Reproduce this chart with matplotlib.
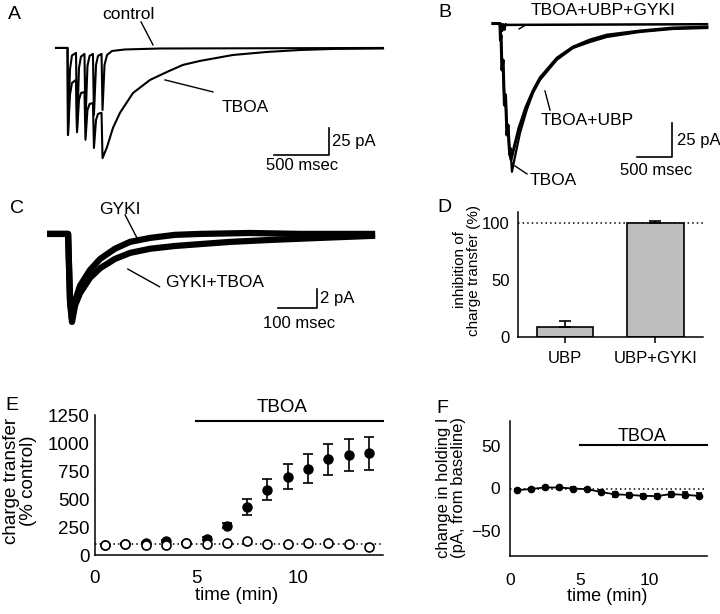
import matplotlib
matplotlib.use('Agg')
import matplotlib.pyplot as plt

plt.rcParams['font.family'] = ['Liberation Sans', 'DejaVu Sans']

# ---------------- data ----------------
# Panel A (time in ms, current in pA)
a_ctrl_t = [0, 105, 109, 127, 145, 182, 191, 209, 227, 259, 268, 286, 305, 336, 345, 364, 382, 414,
            423, 441, 464, 509, 627, 945, 2973]
a_ctrl_i = [0, 0, -80.5, -20, -7, -4.6, -76, -18.5, -8, -5.5, -68.5, -16.7, -7.4, -5.5, -62, -15.7,
            -7.4, -5.5, -57.4, -15.7, -6.5, -2.8, -1.4, -0.5, 0]
a_tboa_t = [0, 105, 109, 127, 145, 182, 191, 209, 227, 259, 268, 286, 305, 336, 345, 364, 382, 414,
            423, 464, 518, 582, 700, 855, 1009, 1154, 1309, 1609, 1918, 2218, 2518, 2973]
a_tboa_i = [0, 0, -80.5, -43.5, -32.4, -29.6, -78, -48, -41.7, -40.7, -85, -57.4, -51.9, -51, -92.6,
            -66.7, -61, -60, -102, -91.7, -74, -60, -41.7, -29.6, -22.2, -15.7, -12, -6.5, -3.7,
            -1.9, -0.9, -0.5]

# Panel B
b_tboa_t = [0, 100, 107, 114, 129, 143, 164, 179, 200, 214, 236, 250, 271, 314, 386, 482, 572, 672,
            910, 1143, 1386, 1625, 2100, 2572, 3058]
b_tboa_i = [0, 0, -12.1, -8.5, -34.2, -26.8, -60, -52.5, -82, -74.6, -96.7, -91.5, -109, -98, -80.5,
            -63.6, -51, -41.5, -26.8, -18, -13.6, -9.9, -6.2, -4, -3.3]
b_ubp_t = [0, 100, 107, 114, 129, 143, 164, 179, 200, 214, 236, 257, 300, 372, 472, 572, 672, 915,
           1143, 1386, 1629, 2100, 2572, 3058]
b_ubp_i = [0, 0, -12.1, -8.5, -34.2, -26.8, -60, -52.5, -82, -74.6, -94, -100, -91.5, -76.8, -61.4,
           -49.6, -40, -25.4, -17.3, -12.1, -8.5, -5.5, -3.3, -2.6]
b_gyki_t = [0, 100, 107, 114, 129, 143, 164, 179, 200, 3058]
b_gyki_i = [0, 0, -6.2, -0.4, -5.5, -0.5, -4.5, -0.5, -1, -0.5]

# Panel C
c_gyki_t = [0, 54, 59, 64, 72, 84.5, 110, 136, 174, 212.5, 264, 328, 392, 520, 648, 840]
c_gyki_i = [0, 0, -7.2, -9.2, -7.2, -5.6, -3.9, -2.7, -1.6, -0.86, -0.43, -0.1, 0, 0.1, 0, 0]
c_gt_t = [0, 54, 59, 64, 72, 84.5, 110, 136, 174, 212.5, 264, 328, 392, 469, 571, 699, 840]
c_gt_i = [0, 0, -7.4, -9.5, -7.7, -6.4, -4.75, -3.7, -2.7, -2.05, -1.6, -1.3, -1.1, -0.86, -0.65,
          -0.43, -0.2]

# Panel D
d_cats = ['UBP', 'UBP+GYKI']
d_vals = [9, 100]
d_errs = [5, 2]

# Panel E
e_time = [0.5, 1.5, 2.5, 3.5, 4.5, 5.5, 6.5, 7.5, 8.5, 9.5, 10.5, 11.5, 12.5, 13.5]
e_filled = [90, 98, 104, 122, 105, 145, 262, 428, 583, 700, 770, 855, 893, 908]
e_filled_err = [5, 5, 8, 10, 8, 15, 22, 70, 93, 113, 130, 138, 140, 146]
e_open = [85, 98, 85, 90, 104, 98, 104, 125, 98, 98, 104, 107, 98, 75]
e_open_err = [4, 4, 4, 4, 4, 4, 4, 5, 4, 4, 4, 4, 4, 4]

# Panel F
f_time = [0.5, 1.5, 2.5, 3.5, 4.5, 5.5, 6.5, 7.5, 8.5, 9.5, 10.5, 11.5, 12.5, 13.5]
f_vals = [-2, -0.5, 1.2, 1.2, 0, -0.8, -4, -7, -7.5, -8.7, -9, -6.7, -7.5, -8.7]
f_errs = [1.5, 1.5, 1.5, 1.5, 1.5, 1.5, 2, 2.5, 2.5, 2.5, 2.5, 3, 3, 3]

# ---------------- figure ----------------
W, H = 720, 614
fig = plt.figure(figsize=(7.2, 6.14), dpi=100)


def box(l, t, r, b):
    return [l / W, 1 - b / H, (r - l) / W, (b - t) / H]


def ftext(x, y, s, **kw):
    fig.text(x / W, 1 - y / H, s, **kw)


TXT = 12.5

# ---- Panel A ----
axA = fig.add_axes(box(50, 0, 395, 178))
axA.plot(a_ctrl_t, a_ctrl_i, color='k', lw=1.5)
axA.plot(a_tboa_t, a_tboa_i, color='k', lw=1.5)
axA.set_xlim(-54.5, 3082)
axA.set_ylim(-120.4, 44.4)
axA.axis('off')
axA.plot([1982, 2482, 2482], [-99, -99, -74], color='k', lw=1.2)
axA.text(2509, -91.2, '25 pA', ha='left', va='baseline', fontsize=12)
axA.text(2236, -113.4, '500 msec', ha='center', va='baseline', fontsize=12)
axA.text(655, 26.9, 'control', ha='center', va='baseline', fontsize=TXT)
axA.plot([773, 882], [24.1, 2.8], color='k', lw=1)
axA.text(1718, -59, 'TBOA', ha='center', va='baseline', fontsize=TXT)
axA.plot([991, 1427], [-29.6, -40.7], color='k', lw=1)

# ---- Panel B ----
axB = fig.add_axes(box(485, 0, 720, 190))
axB.plot(b_gyki_t, b_gyki_i, color='k', lw=1.8)
axB.plot(b_ubp_t, b_ubp_i, color='k', lw=2.2)
axB.plot(b_tboa_t, b_tboa_i, color='k', lw=1.6)
axB.set_xlim(-114, 3244)
axB.set_ylim(-122.4, 17.3)
axB.axis('off')
axB.plot([2058, 2558, 2558], [-98.1, -98.1, -73.1], color='k', lw=1.2)
axB.text(2629, -89.3, '25 pA', ha='left', va='baseline', fontsize=12)
axB.text(2329, -111.4, '500 msec', ha='center', va='baseline', fontsize=12)
axB.text(1572, 6.2, 'TBOA+UBP+GYKI', ha='center', va='baseline', fontsize=TXT)
axB.plot([372, 443], [-4.0, -1.8], color='k', lw=1)
axB.text(1350, -74.6, 'TBOA+UBP', ha='center', va='baseline', fontsize=TXT)
axB.plot([743, 815], [-49.6, -63.6], color='k', lw=1)
axB.text(864, -118.7, 'TBOA', ha='center', va='baseline', fontsize=TXT)
axB.plot([314, 486], [-104.7, -110.6], color='k', lw=1)

# ---- Panel C ----
axC = fig.add_axes(box(40, 195, 390, 340))
axC.plot(c_gt_t, c_gt_i, color='k', lw=4.5, solid_capstyle='butt')
axC.plot(c_gyki_t, c_gyki_i, color='k', lw=4.5, solid_capstyle='butt')
axC.set_xlim(-17.9, 878)
axC.set_ylim(-11.45, 4.2)
axC.axis('off')
axC.plot([591, 691, 691], [-8.0, -8.0, -5.94], color='k', lw=1.2)
axC.text(699, -7.45, '2 pA', ha='left', va='baseline', fontsize=12)
axC.text(645, -10.15, '100 msec', ha='center', va='baseline', fontsize=12)
axC.text(187, 2.16, 'GYKI', ha='center', va='baseline', fontsize=TXT)
axC.plot([200, 233], [2.05, -0.65], color='k', lw=1)
axC.text(428, -5.76, 'GYKI+TBOA', ha='center', va='baseline', fontsize=TXT)
axC.plot([207, 288], [-3.8, -5.7], color='k', lw=1)

# ---- Panel D ----
axD = fig.add_axes(box(518, 212, 703, 337))
xpos = list(range(len(d_cats)))
axD.axhline(100, ls=(0, (1, 2)), color='k', lw=1.1, zorder=1)
axD.bar(xpos, d_vals, width=0.62, color='#bebebe', edgecolor='k', lw=1.2, zorder=2)
axD.errorbar(xpos, d_vals, yerr=[[0] * len(d_errs), d_errs], fmt='none', ecolor='k',
             elinewidth=1.2, capsize=4, capthick=1.2, zorder=3)
axD.set_xlim(-0.519, 1.525)
axD.set_ylim(0, 110)
axD.set_xticks(xpos)
axD.set_xticklabels(d_cats)
axD.set_yticks([0, 50, 100])
for s in ['top', 'right']:
    axD.spines[s].set_visible(False)
for s in ['left', 'bottom']:
    axD.spines[s].set_linewidth(1.1)
axD.tick_params(axis='x', length=4, width=1.1, pad=6, labelsize=12)
axD.tick_params(axis='y', length=0, pad=6, labelsize=12)
ftext(467, 270, 'inhibition of\ncharge transfer (%)', rotation=90, ha='center', va='center',
      fontsize=11, multialignment='center', linespacing=1.0)

# ---- Panel E ----
axE = fig.add_axes(box(95, 415, 383, 555))
axE.axhline(100, ls=(0, (1, 2)), color='k', lw=1.1, zorder=1)
axE.errorbar(e_time, e_filled, yerr=e_filled_err, fmt='o', ms=6.5, mfc='k', mec='k',
             ecolor='k', elinewidth=1.2, capsize=3.5, capthick=1.2, zorder=2)
axE.errorbar(e_time, e_open, yerr=e_open_err, fmt='o', ms=6.5, mfc='white', mec='k', mew=1.2,
             ecolor='k', elinewidth=1.0, capsize=0, zorder=3)
axE.set_xlim(0, 14.2)
axE.set_ylim(0, 1250)
axE.set_xticks([0, 5, 10])
axE.set_yticks([0, 250, 500, 750, 1000, 1250])
for s in ['top', 'right']:
    axE.spines[s].set_visible(False)
for s in ['left', 'bottom']:
    axE.spines[s].set_linewidth(1.1)
axE.tick_params(axis='x', length=0, pad=11, labelsize=13.5)
axE.tick_params(axis='y', length=0, pad=4, labelsize=13.5)
axE.plot([5, 14.2], [1200, 1200], color='k', lw=1.5, clip_on=False)
axE.text(9.22, 1277, 'TBOA', ha='center', va='baseline', fontsize=13.5)
ftext(237, 600, 'time (min)', ha='center', va='baseline', fontsize=13.5)
ftext(20, 481, 'charge transfer\n(% control)', rotation=90, ha='center', va='center',
      fontsize=13.5, multialignment='center', linespacing=1.0)

# ---- Panel F ----
axF = fig.add_axes(box(510, 421, 707, 556))
axF.axhline(0, ls=(0, (1, 2)), color='k', lw=1.1, zorder=1)
axF.errorbar(f_time, f_vals, yerr=f_errs, fmt='-o', ms=4.5, color='k', mfc='k', mec='k',
             lw=1.3, elinewidth=1.2, capsize=2.5, capthick=1.2, zorder=2)
axF.set_xlim(0, 14.1)
axF.set_ylim(-80, 80)
axF.set_xticks([0, 5, 10])
axF.set_yticks([-50, 0, 50])
for s in ['top', 'right']:
    axF.spines[s].set_visible(False)
for s in ['left', 'bottom']:
    axF.spines[s].set_linewidth(1.1)
axF.tick_params(axis='x', length=0, pad=12, labelsize=12.5)
axF.tick_params(axis='y', length=0, pad=7, labelsize=12.5)
axF.plot([5, 14.1], [51, 51], color='k', lw=1.5, clip_on=False)
axF.text(9.43, 56.8, 'TBOA', ha='center', va='baseline', fontsize=13)
ftext(607, 601, 'time (min)', ha='center', va='baseline', fontsize=13)
ftext(451, 488, 'change in holding I\n(pA, from baseline)', rotation=90, ha='center',
      va='center', fontsize=12, multialignment='center', linespacing=1.0)

# ---- Panel letters ----
for lx, ly, lab in [(14, 19, 'A'), (445, 17, 'B'), (17, 213, 'C'), (444, 212, 'D'),
                    (12, 410, 'E'), (442, 413, 'F')]:
    ftext(lx, ly, lab, ha='center', va='baseline', fontsize=14)

fig.savefig('out.png', dpi=100)
